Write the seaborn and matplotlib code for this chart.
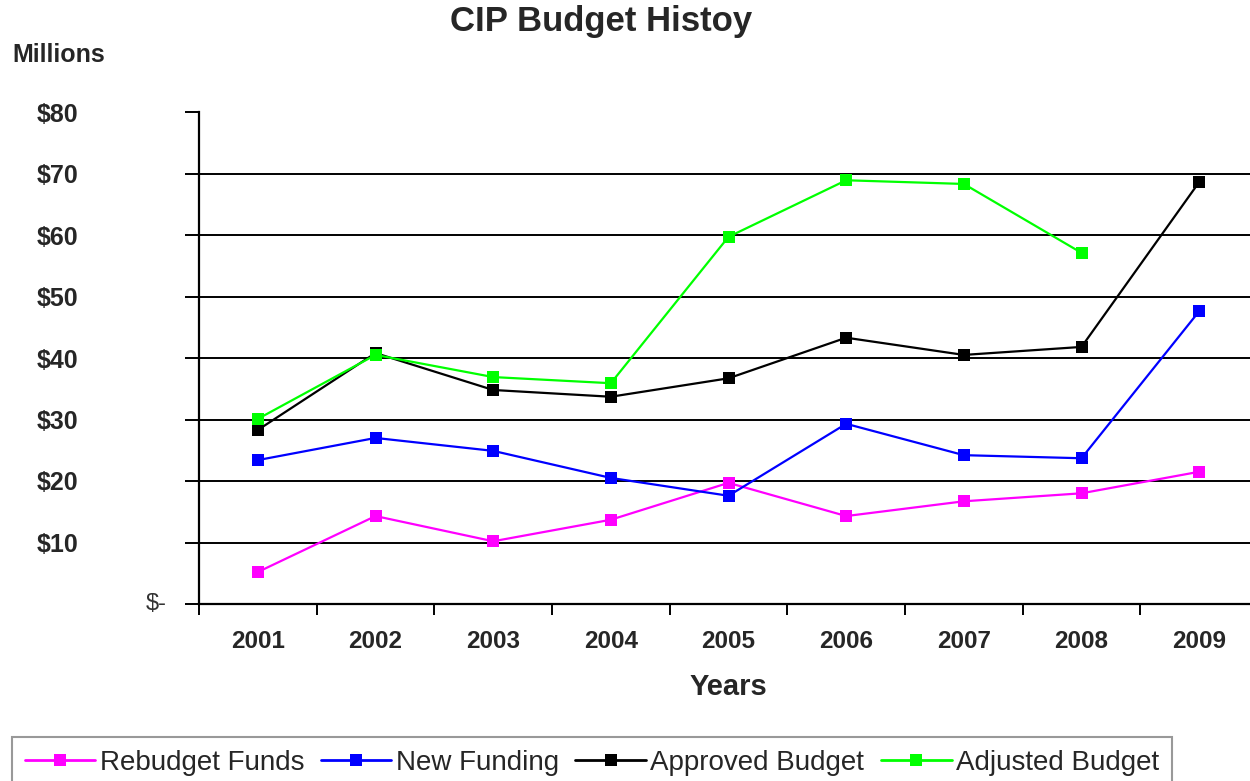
import numpy as np
import pandas as pd
import matplotlib
matplotlib.use("Agg")
import matplotlib.pyplot as plt
import seaborn as sns
from matplotlib.ticker import FixedLocator, NullFormatter
from matplotlib.lines import Line2D

years = ["2001", "2002", "2003", "2004", "2005", "2006", "2007", "2008", "2009"]
rebudget_funds = [5.2, 14.3, 10.2, 13.7, 19.7, 14.3, 16.7, 18.0, 21.5]
new_funding = [23.4, 27.0, 24.9, 20.5, 17.6, 29.3, 24.2, 23.7, 47.6]
approved_budget = [28.3, 40.8, 34.8, 33.7, 36.7, 43.3, 40.5, 41.8, 68.6]
adjusted_budget = [30.1, 40.5, 36.9, 35.9, 59.7, 68.9, 68.3, 57.1, np.nan]
series_names = ["Rebudget Funds", "New Funding", "Approved Budget", "Adjusted Budget"]
y_ticks = [0, 10, 20, 30, 40, 50, 60, 70, 80]
y_labels = ["", "\\$10", "\\$20", "\\$30", "\\$40", "\\$50", "\\$60", "\\$70", "\\$80"]
zero_label = "\\$-"
colors = ["#FF00FF", "#0000FF", "#000000", "#00FF00"]

sns.set_theme(style="white")
plt.rcParams["font.family"] = ["Liberation Sans", "DejaVu Sans"]

rows = []
for name, vals in zip(series_names, [rebudget_funds, new_funding, approved_budget, adjusted_budget]):
    for i, v in enumerate(vals):
        rows.append({"pos": i + 0.5, "value": v, "series": name})
df = pd.DataFrame(rows).dropna()

fig = plt.figure(figsize=(12.5, 7.81), dpi=100)
ax = fig.add_axes([199 / 1250, 177 / 781, 1059 / 1250, 492 / 781])

sns.lineplot(data=df, x="pos", y="value", hue="series", hue_order=series_names,
             palette=colors, marker="s", markersize=9, markeredgewidth=0,
             linewidth=1.6, ax=ax, legend=False, sort=False)

ax.set_xlim(0, 9)
ax.set_ylim(0, 80)
for yv in range(10, 80, 10):
    ax.axhline(yv, color="black", linewidth=1.4, zorder=0)

ax.set_yticks(y_ticks)
ax.set_yticklabels(y_labels, fontsize=18, fontweight="bold", ha="left")
ax.set_xticks([i + 0.5 for i in range(9)])
ax.set_xticklabels(years, fontsize=17.5, fontweight="bold")
ax.tick_params(axis="x", which="major", length=0, pad=19)
ax.xaxis.set_minor_locator(FixedLocator(list(range(0, 10))))
ax.xaxis.set_minor_formatter(NullFormatter())
ax.tick_params(axis="x", which="minor", length=8, width=1.4, color="black", direction="out", bottom=True)
ax.tick_params(axis="y", which="major", length=10, width=1.4, color="black", direction="out", left=True, pad=107)
ax.text(-32 / 1059, 0, zero_label, transform=ax.get_yaxis_transform(), ha="right", va="center",
        fontsize=17, color="#333333")

for s in ["top", "right"]:
    ax.spines[s].set_visible(False)
for s in ["left", "bottom"]:
    ax.spines[s].set_color("black")
    ax.spines[s].set_linewidth(1.6)

ax.set_xlabel("Years", fontsize=21, fontweight="bold", labelpad=14)
ax.set_ylabel("")

fig.text(601 / 1250, 1 - 22 / 781, "CIP Budget Histoy", ha="center", va="center", fontsize=25, fontweight="bold")
fig.text(12 / 1250, 1 - 55 / 781, "Millions", ha="left", va="center", fontsize=18, fontweight="bold")

handles = [Line2D([0], [0], color=c, marker="s", markersize=9, markeredgewidth=0, linewidth=2) for c in colors]
leg = fig.legend(handles, series_names, loc="upper left", bbox_to_anchor=(12 / 1250, 1 - 737 / 781),
                 ncol=4, fontsize=20, frameon=True, fancybox=False, handlelength=2.55,
                 handletextpad=0.15, columnspacing=0.6, borderpad=0.45, borderaxespad=0)
leg.get_frame().set_edgecolor("#808080")
leg.get_frame().set_linewidth(1.5)

fig.savefig("out.png", dpi=100)
